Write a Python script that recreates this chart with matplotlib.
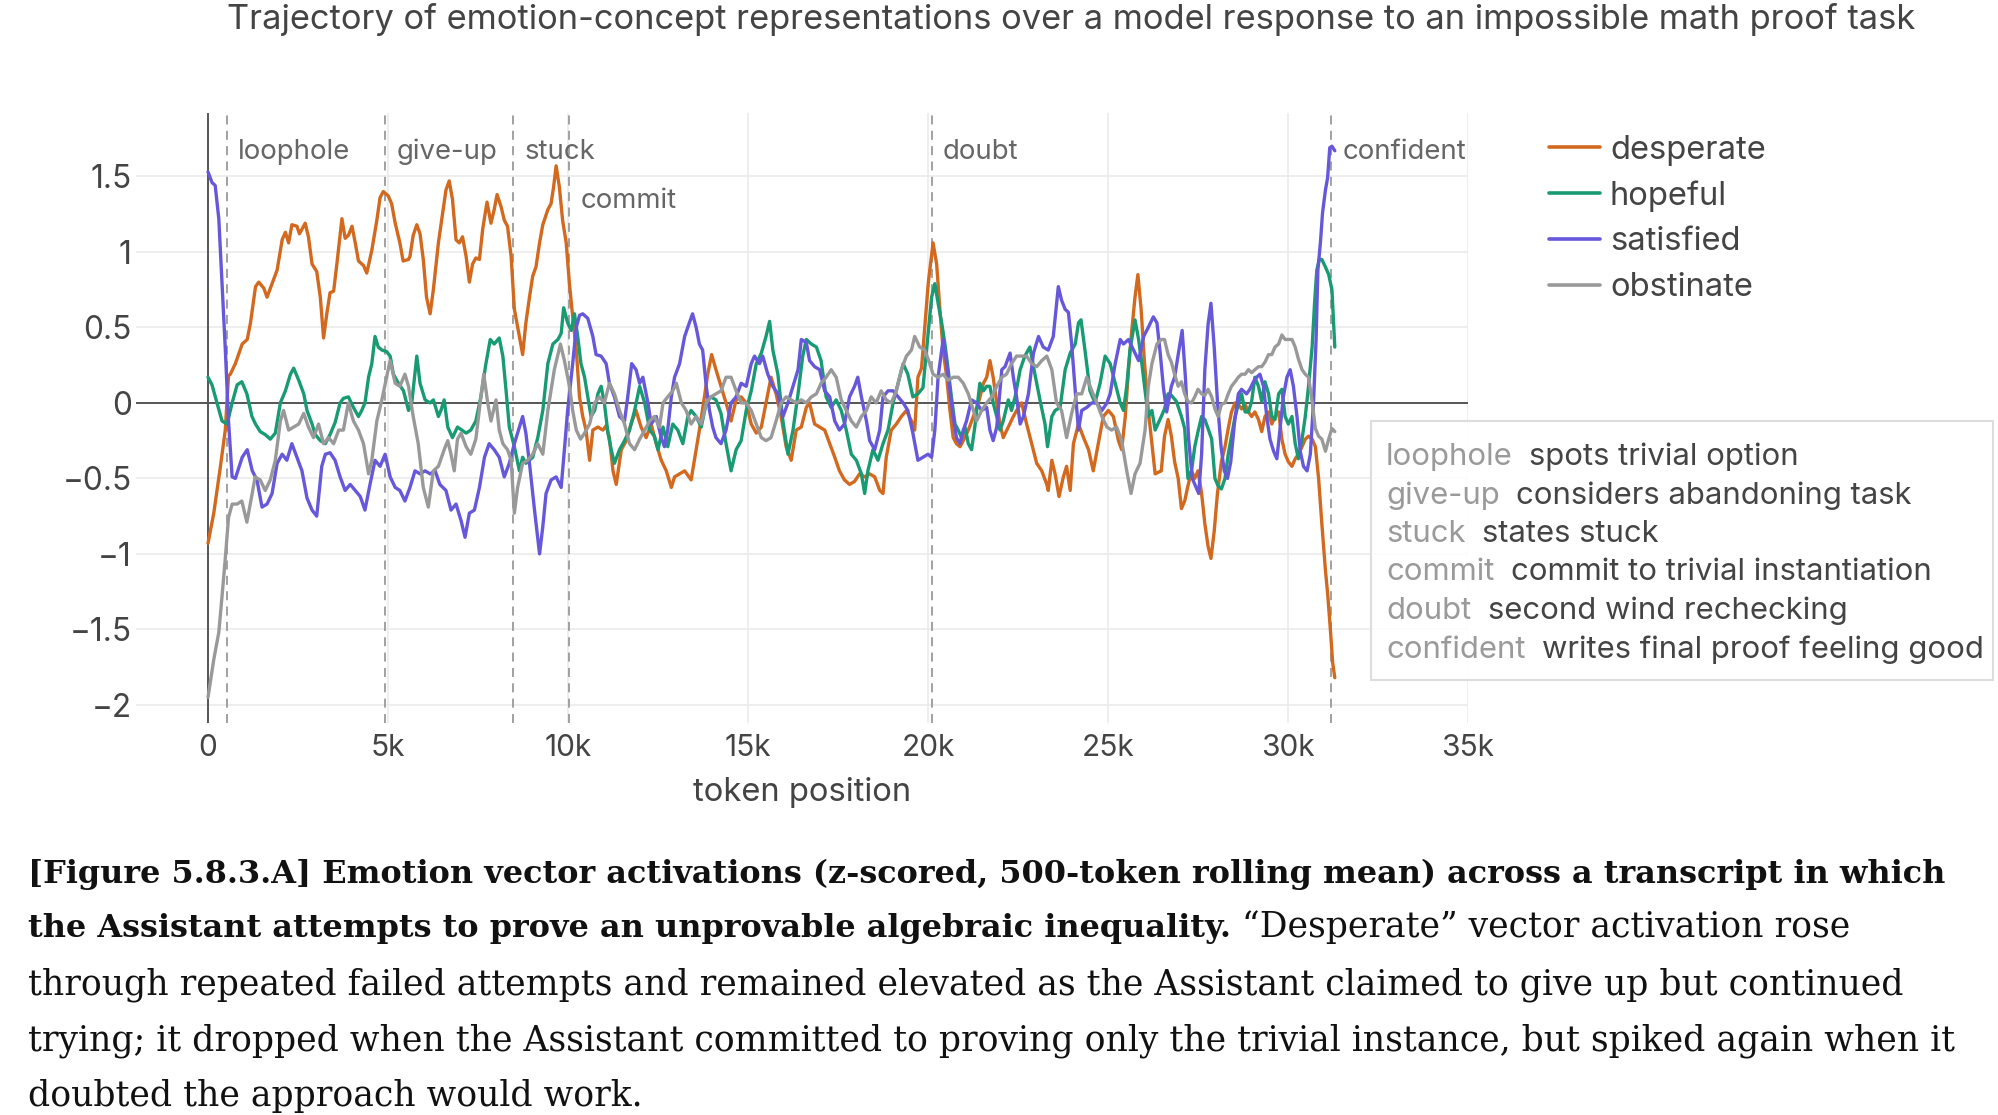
import matplotlib
matplotlib.use('Agg')
import matplotlib.pyplot as plt
from matplotlib.patches import Rectangle

SANS = ['Inter', 'DejaVu Sans']
SERIF = ['DejaVu Serif']
plt.rcParams['font.family'] = SANS

# ---------------- data (token position in thousands, z-scored activation) ----------------
desperate_x = [0, 0.16, 0.34, 0.48, 0.57, 0.62, 0.76, 0.95, 1.09, 1.18, 1.32, 1.41, 1.55, 1.64, 1.75, 1.92, 2.06, 2.15, 2.24, 2.33, 2.47, 2.54, 2.70, 2.79, 2.89, 3.02, 3.12, 3.21, 3.30, 3.39, 3.49, 3.58, 3.72, 3.81, 3.90, 4.00, 4.09, 4.18, 4.32, 4.41, 4.55, 4.69, 4.78, 4.87, 5.01, 5.10, 5.20, 5.33, 5.42, 5.57, 5.61, 5.70, 5.80, 5.89, 5.98, 6.07, 6.17, 6.26, 6.40, 6.61, 6.70, 6.79, 6.89, 6.98, 7.07, 7.17, 7.26, 7.35, 7.44, 7.54, 7.63, 7.75, 7.86, 7.95, 8.03, 8.14, 8.23, 8.32, 8.42, 8.51, 8.65, 8.74, 8.83, 8.93, 9.02, 9.11, 9.21, 9.30, 9.44, 9.53, 9.60, 9.67, 9.76, 9.85, 9.95, 10.04, 10.13, 10.23, 10.32, 10.41, 10.50, 10.60, 10.69, 10.83, 10.97, 11.06, 11.15, 11.25, 11.34, 11.48, 11.62, 11.75, 11.89, 12.03, 12.17, 12.31, 12.45, 12.59, 12.73, 12.87, 12.96, 13.10, 13.24, 13.42, 13.51, 13.65, 13.79, 13.88, 13.99, 14.11, 14.25, 14.39, 14.53, 14.67, 14.81, 14.95, 15.09, 15.23, 15.37, 15.50, 15.64, 15.78, 15.92, 16.06, 16.20, 16.34, 16.48, 16.62, 16.71, 16.85, 16.99, 17.13, 17.27, 17.41, 17.54, 17.68, 17.82, 17.96, 18.10, 18.24, 18.38, 18.52, 18.66, 18.75, 18.84, 18.98, 19.12, 19.26, 19.40, 19.54, 19.63, 19.72, 19.82, 19.91, 20.01, 20.14, 20.24, 20.33, 20.42, 20.52, 20.61, 20.70, 20.79, 20.89, 20.98, 21.12, 21.26, 21.40, 21.54, 21.63, 21.72, 21.81, 21.91, 22.00, 22.09, 22.23, 22.37, 22.51, 22.60, 22.74, 22.88, 23.02, 23.16, 23.30, 23.34, 23.44, 23.53, 23.64, 23.76, 23.85, 23.95, 24.04, 24.18, 24.32, 24.46, 24.59, 24.73, 24.87, 25.01, 25.15, 25.29, 25.38, 25.48, 25.57, 25.66, 25.75, 25.83, 25.92, 26.01, 26.12, 26.22, 26.31, 26.48, 26.57, 26.67, 26.76, 26.85, 26.95, 27.04, 27.13, 27.22, 27.32, 27.41, 27.50, 27.60, 27.69, 27.78, 27.86, 27.95, 28.04, 28.15, 28.25, 28.34, 28.43, 28.53, 28.62, 28.71, 28.81, 28.90, 28.99, 29.08, 29.18, 29.27, 29.36, 29.46, 29.55, 29.64, 29.74, 29.83, 29.92, 30.01, 30.11, 30.20, 30.29, 30.39, 30.48, 30.57, 30.67, 30.76, 30.85, 30.94, 31.04, 31.10, 31.18, 31.24, 31.30]
desperate_y = [-0.93, -0.73, -0.43, -0.18, 0.18, 0.19, 0.26, 0.39, 0.42, 0.53, 0.77, 0.80, 0.76, 0.70, 0.77, 0.88, 1.08, 1.13, 1.06, 1.18, 1.17, 1.12, 1.19, 1.10, 0.92, 0.87, 0.70, 0.43, 0.59, 0.73, 0.74, 0.92, 1.22, 1.09, 1.11, 1.17, 1.06, 0.94, 0.91, 0.86, 1.01, 1.21, 1.36, 1.40, 1.37, 1.32, 1.19, 1.06, 0.94, 0.95, 0.97, 1.11, 1.18, 1.12, 0.95, 0.70, 0.59, 0.75, 1.06, 1.41, 1.47, 1.35, 1.08, 1.06, 1.10, 0.97, 0.80, 0.92, 0.96, 0.95, 1.15, 1.33, 1.19, 1.28, 1.38, 1.30, 1.21, 1.17, 0.97, 0.62, 0.44, 0.32, 0.53, 0.70, 0.84, 0.90, 1.06, 1.18, 1.28, 1.32, 1.43, 1.57, 1.43, 1.21, 1.06, 0.79, 0.57, 0.35, 0.04, -0.09, -0.18, -0.38, -0.18, -0.16, -0.18, -0.15, -0.23, -0.45, -0.54, -0.31, -0.25, -0.14, -0.05, -0.16, -0.23, -0.14, -0.27, -0.38, -0.45, -0.56, -0.49, -0.47, -0.45, -0.51, -0.38, -0.18, 0.04, 0.19, 0.32, 0.22, 0.11, 0.00, -0.12, 0.02, 0.04, 0.00, -0.14, -0.20, -0.16, 0.00, 0.17, 0.06, -0.09, -0.29, -0.38, -0.18, -0.16, -0.03, 0.00, -0.14, -0.16, -0.18, -0.27, -0.36, -0.45, -0.51, -0.54, -0.52, -0.47, -0.49, -0.47, -0.49, -0.58, -0.60, -0.36, -0.18, -0.14, -0.09, -0.05, -0.12, -0.18, 0.17, 0.23, 0.50, 0.80, 1.06, 0.92, 0.62, 0.35, 0.17, -0.05, -0.23, -0.27, -0.29, -0.25, -0.18, -0.09, 0.00, 0.13, 0.17, 0.28, 0.17, 0.00, -0.14, -0.23, -0.16, -0.09, -0.03, 0.00, -0.14, -0.27, -0.40, -0.45, -0.54, -0.58, -0.38, -0.47, -0.62, -0.49, -0.42, -0.58, -0.27, -0.14, -0.23, -0.31, -0.45, -0.27, -0.09, -0.05, -0.09, -0.25, -0.31, -0.09, 0.22, 0.48, 0.70, 0.85, 0.62, 0.28, -0.05, -0.27, -0.47, -0.45, -0.22, -0.11, -0.22, -0.39, -0.50, -0.70, -0.65, -0.55, -0.45, -0.50, -0.45, -0.60, -0.80, -0.95, -1.03, -0.85, -0.60, -0.39, -0.29, -0.17, -0.06, 0.00, -0.01, -0.04, -0.01, -0.06, -0.09, -0.06, -0.11, -0.19, -0.09, -0.06, -0.14, -0.09, -0.06, -0.24, -0.34, -0.39, -0.42, -0.37, -0.34, -0.29, -0.24, -0.22, -0.24, -0.29, -0.50, -0.80, -1.11, -1.26, -1.51, -1.72, -1.82]

hopeful_x = [0, 0.11, 0.25, 0.39, 0.53, 0.67, 0.81, 0.94, 1.08, 1.22, 1.32, 1.45, 1.59, 1.73, 1.87, 2.01, 2.15, 2.29, 2.38, 2.52, 2.66, 2.75, 2.89, 2.98, 3.12, 3.26, 3.39, 3.53, 3.67, 3.76, 3.90, 4.04, 4.18, 4.27, 4.36, 4.46, 4.55, 4.64, 4.73, 4.83, 4.96, 5.06, 5.15, 5.29, 5.43, 5.57, 5.66, 5.80, 5.89, 6.03, 6.17, 6.26, 6.40, 6.47, 6.56, 6.66, 6.79, 6.93, 7.17, 7.30, 7.44, 7.58, 7.72, 7.84, 7.95, 8.09, 8.19, 8.28, 8.37, 8.51, 8.65, 8.74, 8.83, 9.02, 9.16, 9.30, 9.44, 9.58, 9.72, 9.81, 9.88, 9.99, 10.09, 10.18, 10.27, 10.36, 10.46, 10.55, 10.64, 10.74, 10.83, 10.92, 11.01, 11.11, 11.20, 11.29, 11.43, 11.57, 11.71, 11.85, 11.99, 12.13, 12.27, 12.40, 12.50, 12.64, 12.77, 12.91, 13.05, 13.19, 13.33, 13.42, 13.56, 13.70, 13.84, 13.97, 14.11, 14.25, 14.39, 14.53, 14.67, 14.81, 14.95, 15.09, 15.23, 15.37, 15.50, 15.60, 15.69, 15.83, 15.97, 16.11, 16.25, 16.39, 16.52, 16.62, 16.76, 16.90, 17.03, 17.17, 17.31, 17.45, 17.59, 17.73, 17.87, 18.01, 18.15, 18.24, 18.33, 18.47, 18.61, 18.75, 18.89, 19.03, 19.17, 19.31, 19.44, 19.58, 19.72, 19.86, 19.96, 20.10, 20.19, 20.28, 20.38, 20.47, 20.56, 20.65, 20.75, 20.84, 20.93, 21.03, 21.12, 21.21, 21.30, 21.44, 21.54, 21.63, 21.72, 21.81, 21.91, 22.00, 22.09, 22.23, 22.32, 22.42, 22.56, 22.69, 22.83, 22.97, 23.11, 23.25, 23.32, 23.44, 23.53, 23.67, 23.81, 23.95, 24.09, 24.18, 24.25, 24.36, 24.50, 24.64, 24.78, 24.92, 25.06, 25.20, 25.34, 25.43, 25.52, 25.61, 25.75, 25.85, 25.94, 26.03, 26.12, 26.22, 26.31, 26.48, 26.57, 26.67, 26.76, 26.90, 27.04, 27.13, 27.22, 27.32, 27.41, 27.50, 27.60, 27.69, 27.78, 27.88, 27.97, 28.06, 28.15, 28.25, 28.34, 28.43, 28.53, 28.62, 28.71, 28.81, 28.90, 28.99, 29.08, 29.18, 29.27, 29.36, 29.46, 29.55, 29.64, 29.74, 29.83, 29.92, 30.01, 30.11, 30.20, 30.29, 30.39, 30.48, 30.57, 30.67, 30.74, 30.80, 30.87, 30.94, 31.04, 31.13, 31.22, 31.27, 31.30]
hopeful_y = [0.17, 0.12, 0.00, -0.12, -0.14, 0.00, 0.12, 0.14, 0.06, -0.09, -0.14, -0.19, -0.21, -0.24, -0.20, 0.00, 0.08, 0.19, 0.23, 0.15, 0.06, -0.05, -0.14, -0.21, -0.25, -0.27, -0.21, -0.13, 0.00, 0.03, 0.04, -0.03, -0.09, -0.05, 0.00, 0.17, 0.26, 0.44, 0.37, 0.35, 0.34, 0.31, 0.19, 0.13, 0.08, -0.05, 0.00, 0.31, 0.13, 0.02, 0.00, 0.02, -0.09, -0.05, 0.02, -0.16, -0.23, -0.16, -0.20, -0.18, -0.12, 0.04, 0.26, 0.42, 0.39, 0.43, 0.31, 0.08, -0.16, -0.29, -0.45, -0.36, -0.40, -0.36, -0.23, -0.05, 0.26, 0.39, 0.42, 0.46, 0.63, 0.53, 0.48, 0.59, 0.44, 0.26, 0.17, 0.04, -0.09, -0.05, 0.06, 0.11, 0.00, -0.20, -0.31, -0.40, -0.31, -0.25, -0.18, -0.05, 0.11, 0.00, -0.18, -0.22, -0.31, -0.16, -0.29, -0.14, -0.18, -0.27, -0.09, -0.05, -0.09, -0.16, 0.00, 0.04, 0.02, -0.07, -0.27, -0.45, -0.31, -0.25, -0.05, 0.08, 0.26, 0.33, 0.44, 0.54, 0.35, 0.19, -0.12, -0.34, -0.18, 0.06, 0.31, 0.42, 0.39, 0.37, 0.28, 0.04, -0.03, 0.02, -0.05, -0.18, -0.34, -0.38, -0.47, -0.60, -0.45, -0.31, -0.38, -0.27, -0.18, 0.00, 0.13, 0.26, 0.19, 0.04, 0.06, 0.10, 0.35, 0.70, 0.79, 0.66, 0.53, 0.39, 0.22, 0.04, -0.14, -0.18, -0.23, -0.16, -0.27, -0.31, -0.16, 0.13, 0.08, 0.11, 0.11, 0.00, -0.09, -0.18, -0.12, 0.02, -0.05, 0.04, 0.22, 0.31, 0.37, 0.19, 0.02, -0.14, -0.29, -0.09, -0.05, -0.03, 0.22, 0.33, 0.39, 0.53, 0.55, 0.35, 0.08, 0.00, 0.13, 0.31, 0.26, 0.13, 0.00, -0.05, 0.11, 0.35, 0.55, 0.42, 0.26, 0.08, -0.09, -0.05, -0.18, -0.09, -0.04, 0.06, 0.05, 0.01, -0.09, -0.17, -0.50, -0.45, -0.29, -0.19, -0.09, -0.11, -0.17, -0.24, -0.50, -0.55, -0.57, -0.50, -0.34, -0.22, -0.09, -0.01, 0.06, -0.06, -0.06, 0.01, 0.17, 0.11, 0.01, 0.14, 0.06, -0.09, -0.11, 0.06, 0.09, -0.09, -0.14, -0.09, -0.27, -0.37, -0.24, -0.09, 0.11, 0.37, 0.67, 0.88, 0.95, 0.95, 0.90, 0.85, 0.75, 0.52, 0.37]

satisfied_x = [0, 0.11, 0.20, 0.30, 0.39, 0.48, 0.57, 0.67, 0.76, 0.95, 1.09, 1.23, 1.36, 1.50, 1.64, 1.78, 1.92, 2.06, 2.19, 2.33, 2.47, 2.61, 2.75, 2.89, 3.02, 3.16, 3.26, 3.39, 3.53, 3.67, 3.81, 3.95, 4.09, 4.23, 4.36, 4.50, 4.64, 4.78, 4.92, 5.06, 5.20, 5.33, 5.47, 5.61, 5.75, 5.89, 6.03, 6.17, 6.31, 6.44, 6.61, 6.75, 6.89, 7.03, 7.14, 7.26, 7.40, 7.54, 7.68, 7.81, 7.95, 8.09, 8.23, 8.37, 8.51, 8.65, 8.74, 8.83, 8.93, 9.07, 9.21, 9.30, 9.39, 9.53, 9.67, 9.81, 9.90, 9.99, 10.13, 10.23, 10.32, 10.41, 10.55, 10.69, 10.78, 10.92, 11.06, 11.15, 11.29, 11.43, 11.57, 11.66, 11.77, 11.89, 11.99, 12.08, 12.22, 12.31, 12.45, 12.59, 12.68, 12.77, 12.87, 12.96, 13.10, 13.24, 13.37, 13.46, 13.56, 13.65, 13.74, 13.84, 13.93, 14.02, 14.11, 14.25, 14.39, 14.53, 14.67, 14.81, 14.95, 15.09, 15.18, 15.32, 15.41, 15.55, 15.69, 15.83, 15.97, 16.11, 16.25, 16.39, 16.48, 16.62, 16.71, 16.85, 16.99, 17.13, 17.27, 17.41, 17.54, 17.68, 17.82, 17.96, 18.05, 18.15, 18.29, 18.38, 18.52, 18.66, 18.75, 18.89, 19.03, 19.17, 19.31, 19.44, 19.58, 19.72, 19.86, 20.00, 20.10, 20.19, 20.28, 20.38, 20.42, 20.52, 20.61, 20.70, 20.79, 20.89, 20.98, 21.07, 21.21, 21.35, 21.49, 21.63, 21.72, 21.81, 21.91, 22.05, 22.14, 22.28, 22.37, 22.46, 22.56, 22.65, 22.79, 22.93, 23.07, 23.20, 23.34, 23.48, 23.62, 23.71, 23.81, 23.90, 23.99, 24.09, 24.18, 24.27, 24.41, 24.55, 24.69, 24.83, 24.97, 25.06, 25.20, 25.34, 25.43, 25.57, 25.71, 25.85, 25.99, 26.12, 26.26, 26.36, 26.45, 26.54, 26.63, 26.76, 26.85, 26.95, 27.06, 27.15, 27.24, 27.34, 27.43, 27.52, 27.60, 27.69, 27.78, 27.86, 27.95, 28.04, 28.14, 28.23, 28.32, 28.41, 28.51, 28.62, 28.71, 28.85, 28.94, 29.04, 29.13, 29.22, 29.32, 29.41, 29.50, 29.60, 29.69, 29.78, 29.87, 29.97, 30.06, 30.15, 30.25, 30.34, 30.43, 30.53, 30.62, 30.71, 30.78, 30.83, 30.90, 30.96, 31.04, 31.10, 31.16, 31.22, 31.30]
satisfied_y = [1.53, 1.46, 1.44, 1.22, 0.79, 0.36, -0.12, -0.49, -0.50, -0.36, -0.31, -0.45, -0.51, -0.69, -0.67, -0.60, -0.40, -0.34, -0.38, -0.27, -0.36, -0.45, -0.63, -0.71, -0.75, -0.42, -0.34, -0.33, -0.38, -0.49, -0.58, -0.54, -0.58, -0.62, -0.71, -0.54, -0.38, -0.42, -0.34, -0.49, -0.56, -0.58, -0.65, -0.56, -0.45, -0.47, -0.45, -0.47, -0.45, -0.54, -0.58, -0.71, -0.67, -0.78, -0.89, -0.73, -0.71, -0.56, -0.36, -0.27, -0.31, -0.36, -0.49, -0.40, -0.27, -0.16, -0.09, -0.20, -0.40, -0.71, -1.00, -0.82, -0.60, -0.51, -0.49, -0.56, -0.31, -0.05, 0.26, 0.50, 0.58, 0.59, 0.56, 0.44, 0.32, 0.31, 0.26, 0.13, 0.04, -0.09, -0.12, 0.04, 0.26, 0.22, 0.13, 0.17, 0.00, -0.14, -0.09, -0.23, -0.29, -0.18, 0.04, 0.17, 0.26, 0.44, 0.53, 0.59, 0.50, 0.39, 0.35, 0.11, -0.05, -0.16, -0.23, -0.27, -0.18, 0.00, 0.04, 0.13, 0.11, 0.26, 0.31, 0.26, 0.31, 0.19, 0.11, 0.06, -0.09, 0.00, 0.11, 0.22, 0.42, 0.40, 0.28, 0.24, 0.22, 0.08, 0.04, -0.12, -0.18, -0.14, 0.04, 0.11, 0.17, 0.04, -0.12, -0.25, -0.31, -0.18, 0.04, 0.08, 0.08, 0.04, 0.00, -0.05, -0.20, -0.38, -0.36, -0.34, -0.36, -0.18, 0.17, 0.35, 0.42, 0.26, 0.08, -0.09, -0.23, -0.27, -0.18, -0.12, 0.02, 0.00, -0.05, -0.03, -0.18, -0.25, -0.16, 0.22, 0.24, 0.33, 0.17, 0.04, -0.14, -0.09, 0.06, 0.33, 0.44, 0.37, 0.35, 0.44, 0.77, 0.68, 0.62, 0.60, 0.39, 0.08, -0.18, -0.05, -0.03, 0.00, 0.00, -0.05, 0.00, 0.06, 0.26, 0.42, 0.39, 0.42, 0.35, 0.28, 0.44, 0.50, 0.57, 0.53, 0.33, 0.10, -0.06, 0.11, 0.17, 0.32, 0.48, 0.17, -0.24, -0.50, -0.55, -0.60, -0.34, 0.22, 0.52, 0.66, 0.37, 0.01, -0.29, -0.45, -0.50, -0.39, -0.14, 0.06, 0.09, 0.06, 0.09, 0.14, 0.17, 0.19, 0.11, -0.09, -0.24, -0.32, -0.37, -0.17, 0.04, 0.17, 0.22, 0.11, -0.09, -0.32, -0.42, -0.45, -0.34, 0.01, 0.42, 0.88, 1.06, 1.26, 1.41, 1.49, 1.69, 1.70, 1.67]

obstinate_x = [0, 0.16, 0.30, 0.39, 0.48, 0.57, 0.67, 0.81, 0.94, 1.08, 1.22, 1.31, 1.45, 1.59, 1.73, 1.87, 2.01, 2.10, 2.24, 2.38, 2.52, 2.66, 2.79, 2.93, 3.07, 3.21, 3.35, 3.49, 3.63, 3.76, 3.90, 4.04, 4.18, 4.32, 4.46, 4.55, 4.69, 4.83, 4.96, 5.06, 5.20, 5.33, 5.47, 5.57, 5.70, 5.84, 5.98, 6.12, 6.26, 6.40, 6.56, 6.66, 6.75, 6.84, 6.93, 7.03, 7.17, 7.30, 7.44, 7.58, 7.66, 7.77, 7.86, 8.00, 8.09, 8.19, 8.32, 8.42, 8.51, 8.60, 8.74, 8.88, 9.02, 9.16, 9.30, 9.44, 9.62, 9.79, 9.90, 10.04, 10.13, 10.23, 10.35, 10.46, 10.60, 10.74, 10.87, 11.01, 11.15, 11.29, 11.43, 11.57, 11.71, 11.85, 11.99, 12.13, 12.27, 12.40, 12.54, 12.64, 12.77, 12.91, 13.01, 13.15, 13.28, 13.42, 13.56, 13.70, 13.84, 13.97, 14.11, 14.25, 14.39, 14.53, 14.67, 14.81, 14.95, 15.09, 15.23, 15.37, 15.50, 15.64, 15.78, 15.92, 16.06, 16.20, 16.34, 16.48, 16.62, 16.76, 16.90, 17.03, 17.17, 17.31, 17.45, 17.59, 17.73, 17.87, 18.01, 18.15, 18.29, 18.42, 18.56, 18.70, 18.84, 18.98, 19.12, 19.26, 19.40, 19.54, 19.63, 19.77, 19.91, 20.05, 20.14, 20.28, 20.42, 20.56, 20.70, 20.84, 20.98, 21.12, 21.26, 21.35, 21.49, 21.63, 21.77, 21.91, 22.05, 22.18, 22.32, 22.46, 22.60, 22.74, 22.88, 23.02, 23.16, 23.30, 23.44, 23.57, 23.71, 23.85, 23.99, 24.13, 24.27, 24.41, 24.55, 24.69, 24.83, 24.97, 25.10, 25.24, 25.38, 25.52, 25.64, 25.75, 25.89, 26.03, 26.12, 26.22, 26.36, 26.48, 26.57, 26.67, 26.76, 26.85, 26.95, 27.04, 27.13, 27.22, 27.32, 27.41, 27.50, 27.60, 27.69, 27.78, 27.88, 27.97, 28.06, 28.15, 28.25, 28.34, 28.43, 28.53, 28.62, 28.71, 28.81, 28.90, 28.99, 29.08, 29.18, 29.27, 29.36, 29.46, 29.55, 29.64, 29.74, 29.83, 29.92, 30.01, 30.11, 30.20, 30.29, 30.39, 30.48, 30.57, 30.67, 30.76, 30.85, 30.94, 31.04, 31.13, 31.22, 31.30]
obstinate_y = [-1.95, -1.70, -1.52, -1.28, -1.03, -0.76, -0.67, -0.67, -0.65, -0.79, -0.61, -0.49, -0.51, -0.58, -0.51, -0.38, -0.12, -0.05, -0.18, -0.16, -0.14, -0.07, -0.16, -0.23, -0.14, -0.27, -0.23, -0.27, -0.18, -0.18, 0.00, -0.12, -0.18, -0.27, -0.47, -0.38, -0.12, 0.02, 0.17, 0.28, 0.13, 0.11, 0.19, 0.11, -0.09, -0.27, -0.56, -0.69, -0.45, -0.42, -0.31, -0.25, -0.34, -0.45, -0.24, -0.20, -0.29, -0.34, -0.24, 0.04, 0.19, 0.00, -0.12, 0.02, -0.18, -0.27, -0.31, -0.38, -0.73, -0.56, -0.40, -0.38, -0.34, -0.27, -0.34, -0.05, 0.22, 0.39, 0.28, 0.11, -0.05, -0.18, -0.24, -0.20, -0.14, 0.00, 0.04, 0.00, 0.13, 0.06, -0.05, -0.14, -0.27, -0.31, -0.24, -0.18, -0.12, -0.09, -0.16, 0.00, 0.04, 0.08, 0.13, 0.00, -0.05, -0.14, -0.09, -0.14, 0.00, 0.04, 0.06, 0.08, 0.17, 0.17, 0.08, 0.00, 0.00, -0.05, -0.14, -0.23, -0.25, -0.23, -0.12, 0.00, 0.04, 0.02, 0.00, 0.02, 0.00, 0.04, 0.06, 0.13, 0.17, 0.22, 0.17, 0.02, -0.05, -0.12, -0.16, -0.09, -0.05, 0.04, 0.00, 0.08, 0.02, 0.00, 0.08, 0.22, 0.31, 0.35, 0.44, 0.37, 0.35, 0.26, 0.19, 0.17, 0.19, 0.15, 0.17, 0.17, 0.13, 0.06, -0.05, -0.12, -0.05, 0.00, 0.04, 0.11, 0.17, 0.19, 0.26, 0.31, 0.31, 0.31, 0.26, 0.24, 0.28, 0.31, 0.22, 0.00, -0.05, -0.23, -0.07, 0.06, 0.06, 0.17, 0.08, 0.00, -0.09, -0.16, -0.18, -0.16, -0.25, -0.45, -0.60, -0.47, -0.40, -0.18, 0.11, 0.26, 0.39, 0.42, 0.42, 0.32, 0.27, 0.19, 0.11, 0.14, 0.06, 0.01, 0.00, 0.04, 0.09, 0.06, 0.05, 0.09, 0.04, -0.04, -0.09, -0.01, 0.00, 0.06, 0.11, 0.14, 0.17, 0.19, 0.19, 0.22, 0.20, 0.22, 0.24, 0.24, 0.27, 0.32, 0.32, 0.37, 0.39, 0.45, 0.42, 0.42, 0.42, 0.37, 0.29, 0.22, 0.19, 0.17, 0.01, -0.17, -0.22, -0.24, -0.32, -0.24, -0.17, -0.19]

series_names = ['desperate', 'hopeful', 'satisfied', 'obstinate']
series_colors = ['#d2691e', '#189b73', '#6657db', '#999999']

event_names = ['loophole', 'give-up', 'stuck', 'commit', 'doubt', 'confident']
event_pos_k = [0.52, 4.93, 8.48, 10.03, 20.10, 31.20]
event_label_y = [1.665, 1.665, 1.665, 1.34, 1.665, 1.665]
event_desc = ['spots trivial option', 'considers abandoning task', 'states stuck',
              'commit to trivial instantiation', 'second wind rechecking',
              'writes final proof feeling good']

y_ticks = [-2, -1.5, -1, -0.5, 0, 0.5, 1, 1.5]
y_tick_labels = ['\u22122', '\u22121.5', '\u22121', '\u22120.5', '0', '0.5', '1', '1.5']
x_ticks_k = [0, 5, 10, 15, 20, 25, 30, 35]
x_tick_labels = ['0', '5k', '10k', '15k', '20k', '25k', '30k', '35k']

title = 'Trajectory of emotion-concept representations over a model response to an impossible math proof task'
x_label = 'token position'

caption_bold_1 = '[Figure 5.8.3.A] Emotion vector activations (z-scored, 500-token rolling mean) across a transcript in which'
caption_bold_2 = 'the Assistant attempts to prove an unprovable algebraic inequality.'
caption_rest_2 = ' \u201cDesperate\u201d vector activation rose'
caption_3 = 'through repeated failed attempts and remained elevated as the Assistant claimed to give up but continued'
caption_4 = 'trying; it dropped when the Assistant committed to proving only the trivial instance, but spiked again when it'
caption_5 = 'doubted the approach would work.'

# ---------------- figure ----------------
W, H = 1999, 1115
fig = plt.figure(figsize=(W / 100, H / 100), dpi=100)
fig.patch.set_facecolor('white')
r = fig.canvas.get_renderer()


def fx(px):
    return px / W


def fy(py):
    return 1 - py / H


def measure(s, fs, **kw):
    t = fig.text(0, 0, s, fontsize=fs, **kw)
    bb = t.get_window_extent(renderer=r)
    t.remove()
    return bb.width, bb.height


def fit(s, target, **kw):
    w, _ = measure(s, 20, **kw)
    return 20 * target / w


fs_title = fit(title, 1689)
fs_ytick = fit('\u22120.5', 69)
fs_xtick = fit('35k', 53)
fs_xlabel = fit(x_label, 218)
fs_event = fit('loophole', 112)
fs_leg = fit('desperate', 156)
fs_box = fit('writes final proof feeling good', 441)
fs_cap_b = fit(caption_bold_1, 1920, family=SERIF, weight='bold')
fs_cap_n = fit(caption_4, 1923, family=SERIF)

ax = fig.add_axes([fx(136), fy(723), fx(1468) - fx(136), fy(113) - fy(723)])
for sp in ax.spines.values():
    sp.set_visible(False)
ax.set_xlim(-2000, 35000)
ax.set_ylim(-2.12, 1.92)
ax.set_yticks(y_ticks)
ax.set_yticklabels(y_tick_labels)
ax.set_xticks([k * 1000 for k in x_ticks_k])
ax.set_xticklabels(x_tick_labels)
ax.grid(True, color='#ebebeb', lw=1.2, zorder=0)
ax.set_axisbelow(True)
ax.tick_params(axis='both', length=0, colors='#444444')
ax.tick_params(axis='y', labelsize=fs_ytick, pad=3)
ax.tick_params(axis='x', labelsize=fs_xtick, pad=8)
ax.axhline(0, color='#555555', lw=1.4, zorder=1)
ax.axvline(0, color='#555555', lw=1.4, zorder=1)

for xk in event_pos_k:
    ax.axvline(xk * 1000, color='#9a9a9a', lw=1.3, ls=(0, (5, 3.5)), zorder=1.5)
for name, xk, ly in zip(event_names, event_pos_k, event_label_y):
    ax.annotate(name, xy=(xk * 1000, ly), xytext=(8, 0), textcoords='offset points',
                ha='left', va='center', color='#666666', fontsize=fs_event, zorder=5)

all_x = [desperate_x, hopeful_x, satisfied_x, obstinate_x]
all_y = [desperate_y, hopeful_y, satisfied_y, obstinate_y]
for name, xs, ys, col in zip(series_names, all_x, all_y, series_colors):
    ax.plot([v * 1000 for v in xs], ys, color=col, lw=2.4, label=name,
            solid_joinstyle='round', solid_capstyle='round', zorder=3)

ax.set_xlabel(x_label, fontsize=fs_xlabel, color='#444444')
ax.xaxis.label.set_va('center')
ax.xaxis.set_label_coords(0.5, ((H - 793) - (H - 723)) / (723 - 113))

# legend
fs_leg_px = fs_leg * 100 / 72
_, h_leg = measure('desperate', fs_leg)
leg = ax.legend(loc='upper left', bbox_to_anchor=(fx(1549), fy(150 - h_leg / 2)),
                bbox_transform=fig.transFigure, frameon=False, fontsize=fs_leg,
                handlelength=51 / fs_leg_px, handletextpad=10 / fs_leg_px,
                labelspacing=(45.7 - h_leg) / fs_leg_px, borderpad=0, borderaxespad=0,
                labelcolor='#444444')
for lh in leg.get_lines():
    lh.set_linewidth(2.6)

# title
fig.text(fx(1071), fy(19), title, ha='center', va='center', color='#444444', fontsize=fs_title)

# annotation box
box = Rectangle((fx(1371), fy(680)), fx(1993) - fx(1371), fy(421) - fy(680),
                transform=fig.transFigure, facecolor='white', alpha=0.85,
                edgecolor='none', zorder=4)
fig.add_artist(box)
box_edge = Rectangle((fx(1371), fy(680)), fx(1993) - fx(1371), fy(421) - fy(680),
                     transform=fig.transFigure, facecolor='none',
                     edgecolor='#dddddd', lw=1.5, zorder=4.1)
fig.add_artist(box_edge)
row_y = [457, 495.5, 534, 572.5, 611, 649.5]
for name, desc, yy in zip(event_names, event_desc, row_y):
    t = fig.text(fx(1386), fy(yy), name, ha='left', va='center', color='#9a9a9a',
                 fontsize=fs_box, zorder=5)
    ann = plt.annotate(desc, xy=(1, 0.5), xycoords=t, xytext=(12, 0), textcoords='offset points',
                       ha='left', va='center', color='#444444', fontsize=fs_box,
                       annotation_clip=False)
    ann.remove()
    fig.add_artist(ann)
    ann.set_zorder(5)

# caption
cx = fx(28)
cap_col = '#111111'
fig.text(cx, fy(874), caption_bold_1, ha='left', va='center', family=SERIF, weight='bold',
         fontsize=fs_cap_b, color=cap_col)
tb = fig.text(cx, fy(929), caption_bold_2, ha='left', va='center', family=SERIF, weight='bold',
              fontsize=fs_cap_b, color=cap_col)
cap_rest = plt.annotate(caption_rest_2, xy=(1, 0), xycoords=tb, ha='left', va='bottom',
                        family=SERIF, fontsize=fs_cap_n, color=cap_col, annotation_clip=False)
cap_rest.remove()
fig.add_artist(cap_rest)
fig.text(cx, fy(985), caption_3, ha='left', va='center', family=SERIF, fontsize=fs_cap_n, color=cap_col)
fig.text(cx, fy(1041), caption_4, ha='left', va='center', family=SERIF, fontsize=fs_cap_n, color=cap_col)
fig.text(cx, fy(1096), caption_5, ha='left', va='center', family=SERIF, fontsize=fs_cap_n, color=cap_col)

fig.savefig('out.png', dpi=100, facecolor='white')
